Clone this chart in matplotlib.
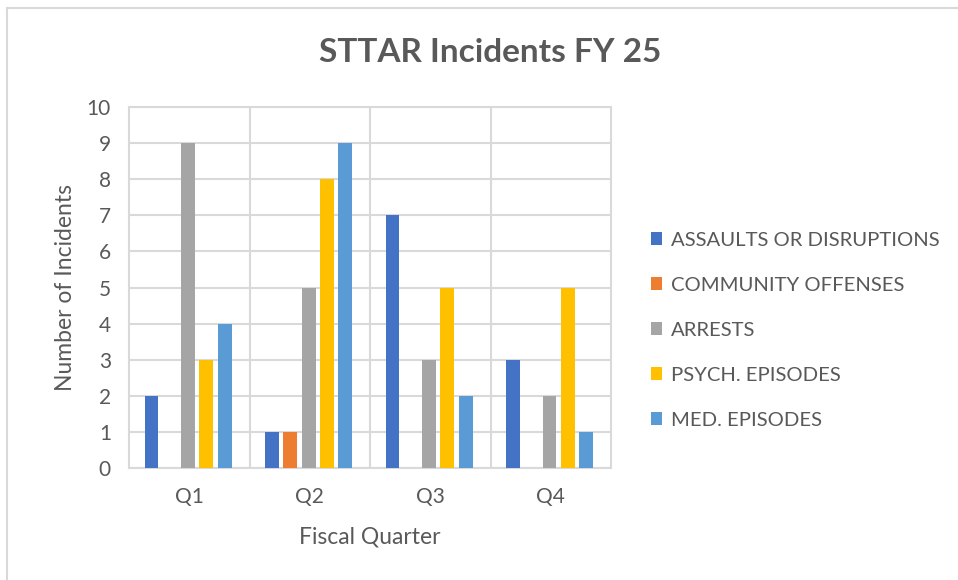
import matplotlib
matplotlib.use('Agg')
import matplotlib.pyplot as plt
import numpy as np

quarters = ['Q1', 'Q2', 'Q3', 'Q4']
series_names = ['ASSAULTS OR DISRUPTIONS', 'COMMUNITY OFFENSES', 'ARRESTS',
                'PSYCH. EPISODES', 'MED. EPISODES']
assaults = [2, 1, 7, 3]
community = [0, 1, 0, 0]
arrests = [9, 5, 3, 2]
psych = [3, 8, 5, 5]
med = [4, 9, 2, 1]
series_values = [assaults, community, arrests, psych, med]
colors = ['#4472C4', '#ED7D31', '#A5A5A5', '#FFC000', '#5B9BD5']

txt = '#595959'
grid = '#D9D9D9'
plt.rcParams['font.family'] = ['Lato', 'DejaVu Sans']

fig = plt.figure(figsize=(9.58, 5.8), dpi=100, facecolor='w')
ax = fig.add_axes([0.1347, 0.1931, 0.5031, 0.6224])

x = np.arange(len(quarters))
step = 0.152
width = 0.115
for i, (name, vals) in enumerate(zip(series_names, series_values)):
    ax.bar(x + (i - 2) * step - 0.01, vals, width, color=colors[i], label=name, zorder=3)

ax.set_xlim(-0.5, 3.5)
ax.set_ylim(0, 10)
ax.set_yticks(range(0, 11))
ax.set_xticks(x)
ax.set_xticklabels(quarters)
ax.set_xticks([0.5, 1.5, 2.5], minor=True)
ax.grid(axis='y', color=grid, linewidth=1.5, zorder=0)
ax.grid(axis='x', which='minor', color=grid, linewidth=1.5, zorder=0)
ax.tick_params(axis='both', which='both', length=0, labelsize=15, colors=txt)
ax.tick_params(axis='x', pad=14)
ax.tick_params(axis='y', pad=13)
for s in ax.spines.values():
    s.set_color(grid)
    s.set_linewidth(1.5)

ax.set_xlabel('Fiscal Quarter', fontsize=16.5, color=txt, labelpad=14)
ax.set_ylabel('Number of Incidents', fontsize=16.5, color=txt, labelpad=8)
fig.text(0.512, 0.91, 'STTAR Incidents FY 25', fontsize=24, fontweight='bold',
         color=txt, ha='center', va='center')

ax.legend(loc='center left', bbox_to_anchor=(1.045, 0.382), frameon=False, fontsize=14.6,
          labelcolor=txt, handlelength=0.55, handleheight=0.55, handletextpad=0.45,
          labelspacing=1.38)

# chart border (top and left edges visible)
fig.add_artist(plt.Line2D([0.0075, 1.0], [0.986, 0.986], color=grid, linewidth=1.5))
fig.add_artist(plt.Line2D([0.0075, 0.0075], [0.0, 0.986], color=grid, linewidth=1.5))

plt.savefig('out.png', dpi=100)
plt.close()
